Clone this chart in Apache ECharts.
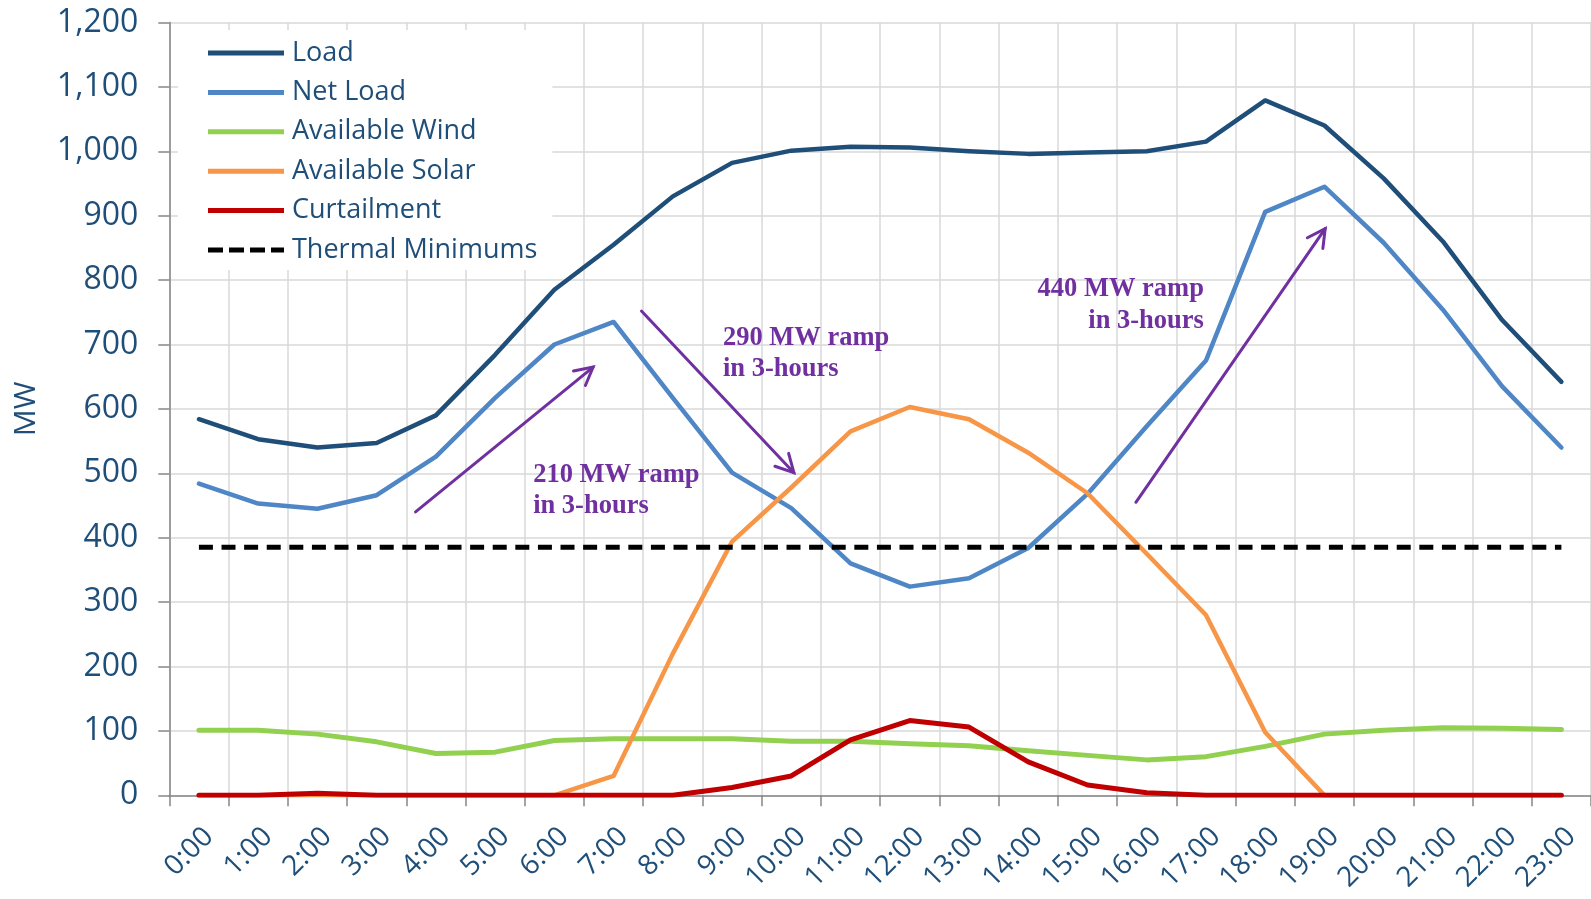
<!DOCTYPE html>
<html>
<head>
<meta charset="utf-8">
<title>Load, Net Load and Renewables by Hour</title>
<script src="https://cdn.jsdelivr.net/npm/echarts@6/dist/echarts.min.js"></script>
<style>
  html, body { margin: 0; padding: 0; background: #ffffff; }
  #chart { width: 1591px; height: 899px; }
</style>
</head>
<body>
<div id="chart"></div>
<script>
// Hour-of-day categories
const hours = ['0:00','1:00','2:00','3:00','4:00','5:00','6:00','7:00','8:00','9:00','10:00','11:00',
               '12:00','13:00','14:00','15:00','16:00','17:00','18:00','19:00','20:00','21:00','22:00','23:00'];

// Hourly values, MW
const load        = [584, 553, 540, 547, 590, 684, 785, 855, 930, 982, 1001, 1007, 1006, 1000, 996, 998, 1000, 1015, 1079, 1040, 958, 860, 738, 642];
const netLoad     = [484, 453, 445, 466, 526, 617, 700, 735, 617, 501, 446, 360, 324, 337, 384, 468, 573, 675, 906, 945, 858, 754, 635, 540];
const wind        = [101, 101, 95, 83, 65, 67, 85, 88, 88, 88, 84, 84, 80, 77, 69, 62, 55, 60, 76, 95, 101, 105, 104, 102];
const solar       = [0, 0, 0, 0, 0, 0, 0, 30, 220, 394, 478, 565, 603, 584, 532, 469, 375, 280, 98, 0, 0, 0, 0, 0];
const curtailment = [0, 0, 3, 0, 0, 0, 0, 0, 0, 12, 30, 86, 116, 106, 52, 16, 4, 0, 0, 0, 0, 0, 0, 0];
const thermalMin  = [385, 385, 385, 385, 385, 385, 385, 385, 385, 385, 385, 385, 385, 385, 385, 385, 385, 385, 385, 385, 385, 385, 385, 385];

// Y axis ticks
const yMin = 0, yMax = 1200, yStep = 100;

// Ramp callouts: arrow ends and text anchors in (hour index, MW)
const ramps = [
  { from: [3.657, 440], to: [6.655, 665], text: ['210 MW ramp', 'in 3-hours'], at: [5.642, 485], align: 'left' },
  { from: [7.471, 752], to: [10.044, 501], text: ['290 MW ramp', 'in 3-hours'], at: [8.846, 698], align: 'left' },
  { from: [15.817, 455], to: [19.013, 880], text: ['440 MW ramp', 'in 3-hours'], at: [16.965, 773], align: 'right' }
];

const TEXT = '#1F4E79';
const AXIS = '#868686';
const GRID = '#D9D9D9';
const PURPLE = '#7030A0';
const FONT = 'Open Sans';

// Legend keys: a solid bar and a dashed bar, both 76 x 5
const solidIcon = 'path://M0,0H76V5H0Z';
const dashIcon = 'path://M0,0h15v5h-15z M21,0h15v5h-15z M42,0h15v5h-15z M63,0h13v5h-13z';

function lineSeries(name, data, color, width, extra) {
  return Object.assign({
    name: name,
    type: 'line',
    data: data,
    symbol: 'none',
    color: color,
    itemStyle: { color: color },
    lineStyle: { color: color, width: width, cap: 'round', join: 'round' },
    emphasis: { disabled: true },
    animation: false
  }, extra || {});
}

const chart = echarts.init(document.getElementById('chart'), null, { renderer: 'canvas' });

chart.setOption({
  backgroundColor: '#ffffff',
  animation: false,
  grid: { left: 169.3, top: 22.5, right: -11.1, bottom: 103.7 },
  legend: {
    orient: 'vertical',
    left: 178,
    top: 30,
    padding: [8, 15, 5, 30],
    backgroundColor: '#ffffff',
    itemWidth: 76,
    itemHeight: 5,
    itemGap: 9.4,
    symbolKeepAspect: false,
    selectedMode: false,
    textStyle: { fontFamily: FONT, fontSize: 27, color: TEXT, lineHeight: 30, padding: [0, 0, 0, 3] },
    data: [
      { name: 'Load', icon: solidIcon },
      { name: 'Net Load', icon: solidIcon },
      { name: 'Available Wind', icon: solidIcon },
      { name: 'Available Solar', icon: solidIcon },
      { name: 'Curtailment', icon: solidIcon },
      { name: 'Thermal Minimums', icon: dashIcon }
    ],
    z: 10
  },
  xAxis: {
    type: 'category',
    data: hours,
    boundaryGap: true,
    axisLine: { show: true, lineStyle: { color: AXIS, width: 1.5 } },
    axisTick: { show: true, length: 11, lineStyle: { color: AXIS, width: 1.5 } },
    splitLine: { show: true, lineStyle: { color: GRID, width: 1.5 } },
    axisLabel: {
      interval: 0, rotate: 45, align: 'right', verticalAlign: 'top', margin: 27,
      fontFamily: FONT, fontSize: 28, color: TEXT
    }
  },
  yAxis: {
    type: 'value',
    min: yMin, max: yMax, interval: yStep,
    name: 'MW',
    nameLocation: 'middle',
    nameRotate: 90,
    nameGap: 128,
    nameTextStyle: { fontFamily: FONT, fontSize: 30, color: TEXT },
    axisLine: { show: true, lineStyle: { color: AXIS, width: 1.5 } },
    axisTick: { show: true, length: 11, lineStyle: { color: AXIS, width: 1.5 } },
    splitLine: { show: true, lineStyle: { color: GRID, width: 1.5 } },
    axisLabel: { margin: 31, fontFamily: FONT, fontSize: 32, color: TEXT }
  },
  series: [
    lineSeries('Load', load, '#1F4E79', 4.5),
    lineSeries('Net Load', netLoad, '#4F86C6', 4.5),
    lineSeries('Available Wind', wind, '#92D050', 5),
    lineSeries('Available Solar', solar, '#F79646', 4.5),
    lineSeries('Curtailment', curtailment, '#C00000', 5),
    lineSeries('Thermal Minimums', thermalMin, '#000000', 5, {
      lineStyle: { color: '#000000', width: 5, type: [14, 8.6], cap: 'butt' }
    })
  ]
});

// Map a fractional hour index and a MW value to pixels through the chart's own axes
const x0 = chart.convertToPixel({ xAxisIndex: 0 }, 0);
const x1 = chart.convertToPixel({ xAxisIndex: 0 }, 1);
function toPx(pt) {
  return [x0 + pt[0] * (x1 - x0), chart.convertToPixel({ yAxisIndex: 0 }, pt[1])];
}

const graphics = [];
const barb = 20, barbAngle = 28 * Math.PI / 180;
const fs = 26.5, lineGap = 31.5;

ramps.forEach(function (r) {
  const a = toPx(r.from), b = toPx(r.to);
  graphics.push({
    type: 'line', silent: true, z: 20,
    shape: { x1: a[0], y1: a[1], x2: b[0], y2: b[1] },
    style: { stroke: PURPLE, lineWidth: 3, lineCap: 'round' }
  });
  const dx = a[0] - b[0], dy = a[1] - b[1];
  const len = Math.sqrt(dx * dx + dy * dy);
  const ux = dx / len, uy = dy / len;
  function rot(t) {
    return [b[0] + barb * (ux * Math.cos(t) - uy * Math.sin(t)),
            b[1] + barb * (ux * Math.sin(t) + uy * Math.cos(t))];
  }
  graphics.push({
    type: 'polyline', silent: true, z: 20,
    shape: { points: [rot(barbAngle), b, rot(-barbAngle)] },
    style: { stroke: PURPLE, lineWidth: 3, fill: null, lineCap: 'round', lineJoin: 'miter' }
  });
  const t = toPx(r.at);
  r.text.forEach(function (s, i) {
    graphics.push({
      type: 'text', silent: true, z: 20,
      x: t[0], y: t[1] - 8 + i * lineGap,
      style: {
        text: s, fill: PURPLE,
        font: 'bold ' + fs + 'px "Liberation Serif", "Times New Roman", serif',
        align: r.align, verticalAlign: 'middle'
      }
    });
  });
});

chart.setOption({ graphic: graphics });
</script>
</body>
</html>
